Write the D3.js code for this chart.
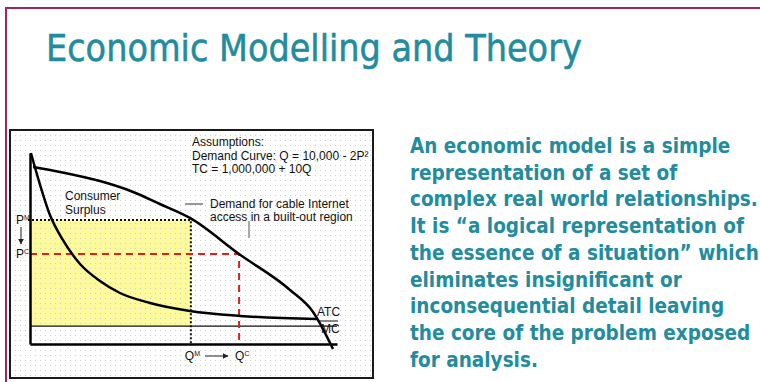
<!DOCTYPE html>
<html>
<head>
<meta charset="utf-8">
<script src="https://cdn.jsdelivr.net/npm/d3@7"></script>
<style>
  body { margin: 0; background: #fff; overflow: hidden; }
  svg text { font-family: "Liberation Sans", Arial, sans-serif; }
</style>
</head>
<body>
<div id="chart"></div>
<script>
// price / quantity in plot units (0-100 on both axes)
const demandQ = [1, 9.8, 22.8, 33.6, 42.3, 52.1, 68.1, 84.7, 92.2, 98.7];
const demandP = [92.7, 90.1, 85.3, 79.6, 73.3, 66.0, 47.1, 28.3, 16.8, -2.6];
const atcQ = [0.3, 3.3, 6.5, 10.7, 16.3, 22.8, 29.3, 39.1, 52.1, 68.4, 93.5];
const atcP = [100, 83.2, 67.5, 54.5, 41.9, 33.0, 26.7, 21.5, 17.3, 14.7, 13.1];
const mcLevel = 9.4;
const qM = 52.4, pM = 64.9;   // monopoly
const qC = 68.1, pC = 47.1;   // competitive

const titleText = "Economic Modelling and Theory";
const assumptions = ["Assumptions:", "Demand Curve: Q = 10,000 - 2P\u00b2", "TC = 1,000,000 + 10Q"];
const demandNote = ["Demand for cable Internet", "access in a built-out region"];
const surplusLabel = ["Consumer", "Surplus"];
const bodyLines = [
    "An economic model is a simple",
    "representation of a set of",
    "complex real world relationships.",
    "It is \u201ca logical representation of",
    "the essence of a situation\u201d which",
    "eliminates insignificant or",
    "inconsequential detail leaving",
    "the core of the problem exposed",
    "for analysis."
];

const W = 760, H = 382;
const teal = "#228c9e";

const svg = d3.select("#chart").append("svg")
    .attr("width", W)
    .attr("height", H);

const defs = svg.append("defs");
defs.append("pattern")
    .attr("id", "dots")
    .attr("width", 5).attr("height", 5)
    .attr("patternUnits", "userSpaceOnUse")
  .append("rect")
    .attr("width", 1).attr("height", 1)
    .attr("fill", "#cfcfcf");
defs.append("marker")
    .attr("id", "arrow")
    .attr("viewBox", "0 0 10 10")
    .attr("refX", 9).attr("refY", 5)
    .attr("markerWidth", 6).attr("markerHeight", 6)
    .attr("orient", "auto")
  .append("path")
    .attr("d", "M0,0 L10,5 L0,10 z")
    .attr("fill", "#222");

// squeeze a text horizontally so it spans the wanted width
function fitWidth(sel, x, y, target) {
    let w = sel.node().getComputedTextLength();
    sel.attr("transform", `translate(${x},${y}) scale(${target / w},1)`);
    return target / w;
}

// slide frame
svg.append("path")
    .attr("d", `M${W},8 H6 V${H}`)
    .attr("fill", "none")
    .attr("stroke", "#a3245e")
    .attr("stroke-width", 2);

let title = svg.append("text")
    .style("font-family", "'DejaVu Sans', Verdana, sans-serif")
    .attr("font-size", 38)
    .attr("fill", teal)
    .attr("stroke", teal)
    .attr("stroke-width", 0.6)
    .text(titleText);
fitWidth(title, 46, 61, 536);

// body text, all lines share the squeeze of the widest one
let body = svg.selectAll(".body")
    .data(bodyLines)
    .join("text")
    .attr("class", "body")
    .style("font-family", "'DejaVu Sans', Verdana, sans-serif")
    .attr("font-weight", "bold")
    .attr("font-size", 20.5)
    .attr("fill", teal)
    .text(d => d);
let sx = fitWidth(body.filter((d, i) => i === 2), 410, 153 + 2 * 26.7, 348);
body.attr("transform", (d, i) => `translate(410,${153 + i * 26.7}) scale(${sx},1)`);

// chart panel
svg.append("rect")
    .attr("x", 10).attr("y", 130)
    .attr("width", 363).attr("height", 248)
    .attr("fill", "url(#dots)")
    .attr("stroke", "#1a1a1a")
    .attr("stroke-width", 2);

let margin = { top: 153, left: 30 },
    width = 307,
    height = 191;

let x = d3.scaleLinear().domain([0, 100]).range([0, width]);
let y = d3.scaleLinear().domain([0, 100]).range([height, 0]);

let g = svg.append("g")
    .attr("transform", `translate(${margin.left},${margin.top})`);

// consumer surplus block
g.append("rect")
    .attr("x", x(0))
    .attr("y", y(pM))
    .attr("width", x(qM) - x(0))
    .attr("height", y(mcLevel) - y(pM))
    .attr("fill", "#fdfa9e");
g.append("rect")
    .attr("x", x(0))
    .attr("y", y(pM))
    .attr("width", x(qM) - x(0))
    .attr("height", y(mcLevel) - y(pM))
    .attr("fill", "url(#dots)");

// MC line
g.append("line")
    .attr("x1", x(0)).attr("x2", x(100))
    .attr("y1", y(mcLevel)).attr("y2", y(mcLevel))
    .attr("stroke", "#111")
    .attr("stroke-width", 1.3);

// monopoly price / quantity (dotted)
g.append("path")
    .attr("d", `M${x(0) - 2},${y(pM)} H${x(qM)} V${y(0)}`)
    .attr("fill", "none")
    .attr("stroke", "#111")
    .attr("stroke-width", 2)
    .attr("stroke-dasharray", "2,2");

// competitive price / quantity (red dashed)
g.append("path")
    .attr("d", `M${x(0)},${y(pC)} H${x(qC)} V${y(0)}`)
    .attr("fill", "none")
    .attr("stroke", "#e0201c")
    .attr("stroke-width", 2)
    .attr("stroke-dasharray", "7,5");

let line = d3.line()
    .curve(d3.curveMonotoneX)
    .x(d => x(d[0]))
    .y(d => y(d[1]));

g.append("path")
    .datum(d3.zip(demandQ, demandP))
    .attr("d", line)
    .attr("fill", "none")
    .attr("stroke", "#000")
    .attr("stroke-width", 2.5);

g.append("path")
    .datum(d3.zip(atcQ, atcP))
    .attr("d", line)
    .attr("fill", "none")
    .attr("stroke", "#000")
    .attr("stroke-width", 2.5);

// axes without ticks
g.append("g")
    .attr("transform", `translate(0,${height})`)
    .call(d3.axisBottom(x).tickValues([]).tickSizeOuter(0))
    .call(a => a.select(".domain").attr("stroke", "#000").attr("stroke-width", 2.5));
g.append("g")
    .call(d3.axisLeft(y).tickValues([]).tickSizeOuter(0))
    .call(a => a.select(".domain").attr("stroke", "#000").attr("stroke-width", 2.5));

// labels with small superscripts
function supLabel(lx, ly, main, sup) {
    let t = svg.append("text")
        .attr("x", lx).attr("y", ly)
        .attr("font-size", 12)
        .attr("fill", "#111");
    t.append("tspan").text(main);
    t.append("tspan").attr("font-size", 7).attr("dy", -4).text(sup);
}
supLabel(margin.left - 14, margin.top + y(pM) + 4, "P", "M");
supLabel(margin.left - 14, margin.top + y(pC) + 4, "P", "C");
supLabel(margin.left + x(qM) - 6, 360, "Q", "M");
supLabel(margin.left + x(qC) - 4, 360, "Q", "C");

svg.append("line")
    .attr("x1", 21).attr("y1", 227)
    .attr("x2", 21).attr("y2", 244)
    .attr("stroke", "#222").attr("stroke-width", 1)
    .attr("marker-end", "url(#arrow)");
svg.append("line")
    .attr("x1", 205).attr("y1", 356)
    .attr("x2", 228).attr("y2", 356)
    .attr("stroke", "#222").attr("stroke-width", 1)
    .attr("marker-end", "url(#arrow)");

svg.selectAll(".surplus")
    .data(surplusLabel)
    .join("text")
    .attr("class", "surplus")
    .attr("x", 65)
    .attr("y", (d, i) => 200 + i * 14)
    .attr("font-size", 12)
    .attr("fill", "#111")
    .text(d => d);

svg.selectAll(".assume")
    .data(assumptions)
    .join("text")
    .attr("class", "assume")
    .attr("x", 192)
    .attr("y", (d, i) => 146 + i * 13.5)
    .attr("font-size", 12)
    .attr("fill", "#111")
    .text(d => d);

svg.selectAll(".dnote")
    .data(demandNote)
    .join("text")
    .attr("class", "dnote")
    .attr("x", 210)
    .attr("y", (d, i) => 208 + i * 13)
    .attr("font-size", 12)
    .attr("fill", "#111")
    .text(d => d);

svg.append("line")
    .attr("x1", 185).attr("x2", 203)
    .attr("y1", 204).attr("y2", 204)
    .attr("stroke", "#333");
svg.append("line")
    .attr("x1", 249).attr("x2", 249)
    .attr("y1", 221).attr("y2", 238)
    .attr("stroke", "#555");

svg.append("text")
    .attr("x", 317).attr("y", 316)
    .attr("font-size", 12)
    .attr("fill", "#111")
    .text("ATC");
svg.append("line")
    .attr("x1", 318).attr("x2", 338)
    .attr("y1", 321).attr("y2", 321)
    .attr("stroke", "#111");
svg.append("text")
    .attr("x", 321).attr("y", 333)
    .attr("font-size", 12)
    .attr("fill", "#111")
    .text("MC");
</script>
</body>
</html>
